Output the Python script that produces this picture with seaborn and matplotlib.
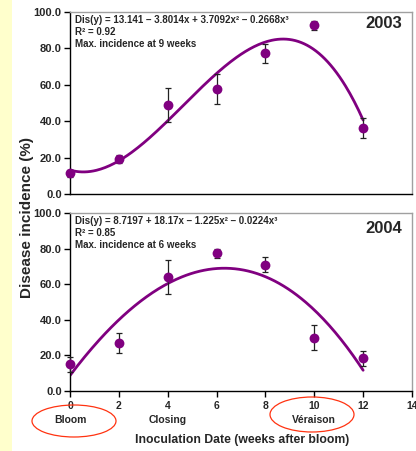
import numpy as np
import pandas as pd
import matplotlib
matplotlib.use("Agg")
import matplotlib.pyplot as plt
from matplotlib.patches import Ellipse, Rectangle
import seaborn as sns

# ---- data ----
weeks = [0, 2, 4, 6, 8, 10, 12]
inc_2003 = [11.3, 19.4, 48.9, 57.5, 77.2, 92.6, 36.1]
err_2003 = [2.0, 2.3, 9.2, 8.2, 5.0, 2.4, 5.5]
inc_2004 = [15.0, 27.2, 64.0, 77.4, 70.9, 30.0, 18.3]
err_2004 = [4.3, 5.6, 9.7, 2.5, 4.3, 7.0, 4.0]
coef_2003 = [13.141, -3.8014, 3.7092, -0.2668]   # fitted trend (from chart text)
coef_2004 = [8.7197, 18.17, -1.225, -0.0224]
eq_2003 = "Dis(y) = 13.141 – 3.8014x + 3.7092x² – 0.2668x³\nR² = 0.92\nMax. incidence at 9 weeks"
eq_2004 = "Dis(y) = 8.7197 + 18.17x – 1.225x² – 0.0224x³\nR² = 0.85\nMax. incidence at 6 weeks"
years = ["2003", "2004"]
xtick_vals = [0, 2, 4, 6, 8, 10, 12, 14]
xtick_labels = ["0\nBloom", "2\n", "4\nClosing", "6\n", "8\n", "10\nVéraison", "12\n", "14\n"]
ytick_vals = [0, 20, 40, 60, 80, 100]
ytick_labels = ["0.0", "20.0", "40.0", "60.0", "80.0", "100.0"]

sns.set_style("white")
plt.rcParams['font.family'] = ['Liberation Sans', 'DejaVu Sans']
plt.rcParams['font.weight'] = 'bold'

W, H = 416, 451
fig = plt.figure(figsize=(W / 100, H / 100), dpi=100)
fig.patch.set_facecolor("white")
fig.patches.append(Rectangle((0, 0), 12 / W, 1, transform=fig.transFigure,
                             facecolor="#FFFFCC", edgecolor="none", zorder=0))

def px_rect(l, t, r, b):
    return [l / W, 1 - b / H, (r - l) / W, (b - t) / H]

ax1 = fig.add_axes(px_rect(70, 12, 412, 194))
ax2 = fig.add_axes(px_rect(70, 213, 412, 391))

purple = "#800080"
panels = [(ax1, inc_2003, err_2003, coef_2003, eq_2003, years[0]),
          (ax2, inc_2004, err_2004, coef_2004, eq_2004, years[1])]

for ax, inc, err, coef, eq, yr in panels:
    df = pd.DataFrame({"week": weeks, "inc": inc, "err": err})
    xs = np.linspace(min(weeks), max(weeks), 200)
    ys = np.polyval(coef[::-1], xs)
    sns.lineplot(x=xs, y=ys, ax=ax, color=purple, linewidth=2.0, zorder=2)
    eb = ax.errorbar(df["week"], df["inc"], yerr=df["err"], fmt="none", ecolor="#222222",
                     elinewidth=0.9, capsize=2.0, capthick=0.9, zorder=3)
    for art in eb.lines[1] + eb.lines[2]:
        art.set_clip_on(False)
    sns.scatterplot(data=df, x="week", y="inc", ax=ax, color=purple, s=50,
                    edgecolor=purple, linewidth=0, zorder=4, clip_on=False)
    ax.set_xlim(0, 14)
    ax.set_ylim(0, 100)
    ax.set_yticks(ytick_vals)
    ax.set_yticklabels(ytick_labels, fontsize=8, fontweight="bold")
    ax.set_xlabel("")
    ax.set_ylabel("")
    for s in ["top", "right"]:
        ax.spines[s].set_color("#A0A0A0")
        ax.spines[s].set_linewidth(1.0)
    for s in ["left", "bottom"]:
        ax.spines[s].set_color("black")
        ax.spines[s].set_linewidth(1.0)
    ax.tick_params(axis="y", direction="out", length=4, width=1, color="black", pad=2, left=True)
    ax.text(0.015, 0.985, eq, transform=ax.transAxes, ha="left", va="top",
            fontsize=7.0, fontweight="bold", linespacing=1.25)
    ax.text(0.972, 0.935 if yr == "2003" else 0.915, yr, transform=ax.transAxes,
            ha="right", va="center", fontsize=12, fontweight="bold")

ax1.set_xticks(xtick_vals)
ax1.tick_params(axis="x", bottom=False, labelbottom=False)
ax2.set_xticks(xtick_vals)
ax2.set_xticklabels(xtick_labels, fontsize=7.5, fontweight="bold", linespacing=1.5)
ax2.tick_params(axis="x", direction="out", length=4, width=1, color="black", pad=3.5, bottom=True)

fig.text(27 / W, 1 - 218 / H, "Disease incidence (%)", rotation=90, ha="center",
         va="center", fontsize=11, fontweight="bold")
fig.text(242 / W, 1 - 440 / H, "Inoculation Date (weeks after bloom)", ha="center",
         va="center", fontsize=8.8, fontweight="bold")

for cx, cy, w, h in [(74, 421, 84, 32), (312, 414.5, 84, 35)]:
    fig.patches.append(Ellipse((cx / W, 1 - cy / H), w / W, h / H, transform=fig.transFigure,
                               facecolor="none", edgecolor="#FF3311", linewidth=0.9, zorder=5))

fig.savefig("out.png", dpi=100)
